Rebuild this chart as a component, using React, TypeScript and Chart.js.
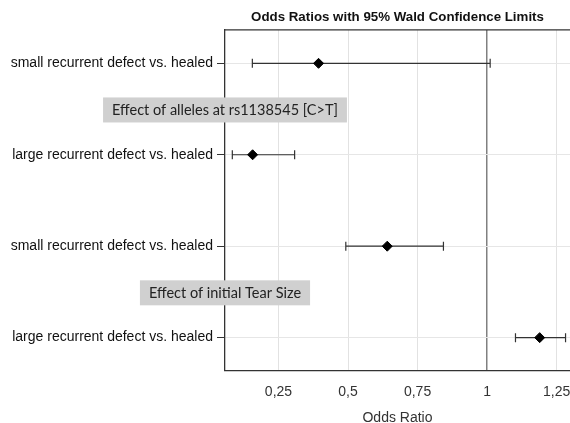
import React, { useEffect, useRef } from 'react';
import { Chart, registerables } from 'chart.js';

Chart.register(...registerables);

// ---- data ----
const categories = [
  'small recurrent defect vs. healed',
  'large recurrent defect vs. healed',
  'small recurrent defect vs. healed',
  'large recurrent defect vs. healed',
];
const oddsRatios = [0.394, 0.157, 0.641, 1.189];
const lowerCL = [0.156, 0.084, 0.492, 1.102];
const upperCL = [1.011, 0.308, 0.843, 1.282];
const xTicks = [0.25, 0.5, 0.75, 1, 1.25];
const groupLabels = ['Effect of alleles at rs1138545 [C>T]', 'Effect of initial Tear Size'];
const groupPositions = [0.51, 2.51];

const chartTitle = 'Odds Ratios with 95% Wald Confidence Limits';
const xTitle = 'Odds Ratio';

const errorBarPlugin = {
  id: 'errorBars',
  beforeDatasetsDraw(chart: any) {
    const { ctx, scales, chartArea } = chart;
    const x = scales.x;
    const y = scales.y;
    ctx.save();
    // top frame line
    ctx.strokeStyle = '#333';
    ctx.lineWidth = 1.3;
    ctx.beginPath();
    ctx.moveTo(chartArea.left, chartArea.top);
    ctx.lineTo(chartArea.right, chartArea.top);
    ctx.stroke();
    ctx.lineWidth = 1.2;
    ctx.strokeStyle = '#333';
    oddsRatios.forEach((_, i) => {
      const py = y.getPixelForValue(i);
      const x1 = x.getPixelForValue(lowerCL[i]);
      const x2 = x.getPixelForValue(upperCL[i]);
      ctx.beginPath();
      ctx.moveTo(x1, py);
      ctx.lineTo(x2, py);
      ctx.moveTo(x1, py - 4.5);
      ctx.lineTo(x1, py + 4.5);
      ctx.moveTo(x2, py - 4.5);
      ctx.lineTo(x2, py + 4.5);
      ctx.stroke();
    });
    ctx.restore();
  },
};

const groupBoxPlugin = {
  id: 'groupBoxes',
  afterDraw(chart: any) {
    const { ctx, scales, chartArea } = chart;
    const y = scales.y;
    ctx.save();
    ctx.font = '14.5px Lato';
    ctx.textBaseline = 'middle';
    ctx.textAlign = 'center';
    groupLabels.forEach((label, i) => {
      const cy = y.getPixelForValue(groupPositions[i]);
      const w = ctx.measureText(label).width + 18;
      const h = 25;
      const cx = chartArea.left;
      ctx.fillStyle = '#d0d0d0';
      ctx.fillRect(cx - w / 2, cy - h / 2, w, h);
      ctx.fillStyle = '#222';
      ctx.fillText(label, cx, cy + 0.5);
    });
    ctx.restore();
  },
};

export default function App() {
  const ref = useRef<HTMLCanvasElement>(null);
  useEffect(() => {
    if (!ref.current) return;
    const chart = new Chart(ref.current, {
      type: 'scatter',
      data: {
        datasets: [
          {
            data: oddsRatios.map((v, i) => ({ x: v, y: i })),
            pointStyle: 'rectRot',
            pointRadius: 5,
            backgroundColor: '#000',
            borderColor: '#000',
            borderWidth: 1,
          },
        ],
      },
      options: {
        responsive: false,
        animation: false,
        layout: { padding: 0, autoPadding: false },
        plugins: {
          legend: { display: false },
          tooltip: { enabled: false },
          title: {
            display: true,
            fullSize: false,
            text: chartTitle,
            color: '#111',
            font: { family: 'Liberation Sans', size: 13.3, weight: 'bold', lineHeight: 1.2 },
            padding: { top: 9, bottom: 5 },
          },
        },
        scales: {
          x: {
            type: 'linear',
            min: 0.0577,
            max: 1.298,
            afterBuildTicks: (scale: any) => {
              scale.ticks = xTicks.map((v) => ({ value: v }));
            },
            afterFit: (scale: any) => {
              scale.height = 52;
              scale.paddingRight = 0;
              scale.paddingLeft = 0;
            },
            ticks: {
              color: '#333',
              padding: 13,
              font: { family: 'Liberation Sans', size: 14 },
              callback: (v: any) => String(v).replace('.', ','),
            },
            grid: {
              color: (c: any) => (c.tick && c.tick.value === 1 ? '#808080' : '#e2e2e2'),
              lineWidth: (c: any) => (c.tick && c.tick.value === 1 ? 1.5 : 1),
              drawTicks: false,
            },
            border: { color: '#333', width: 1.3 },
            title: {
              display: true,
              text: xTitle,
              color: '#333',
              font: { family: 'Liberation Sans', size: 14, lineHeight: 1 },
              padding: { top: 0, bottom: -2 },
            },
          },
          y: {
            type: 'linear',
            reverse: true,
            min: -0.365,
            max: 3.365,
            afterBuildTicks: (scale: any) => {
              scale.ticks = categories.map((_, i) => ({ value: i }));
            },
            afterFit: (scale: any) => {
              scale.width = 225;
              scale.paddingTop = 0;
              scale.paddingBottom = 0;
            },
            ticks: {
              color: '#111',
              padding: 4,
              autoSkip: false,
              font: { family: 'Liberation Sans', size: 14 },
              callback: (_v: any, i: number) => categories[i],
            },
            grid: {
              color: '#e6e6e6',
              lineWidth: 1,
              drawTicks: true,
              tickLength: 8,
              tickColor: '#333',
            },
            border: { color: '#333', width: 1.3 },
          },
        },
      },
      plugins: [errorBarPlugin, groupBoxPlugin],
    });
    return () => chart.destroy();
  }, []);
  return (
    <div style={{ position: 'absolute', left: 0, top: 0, width: 570, height: 423, background: '#fff' }}>
      <canvas ref={ref} width={570} height={423} style={{ display: 'block' }} />
    </div>
  );
}
